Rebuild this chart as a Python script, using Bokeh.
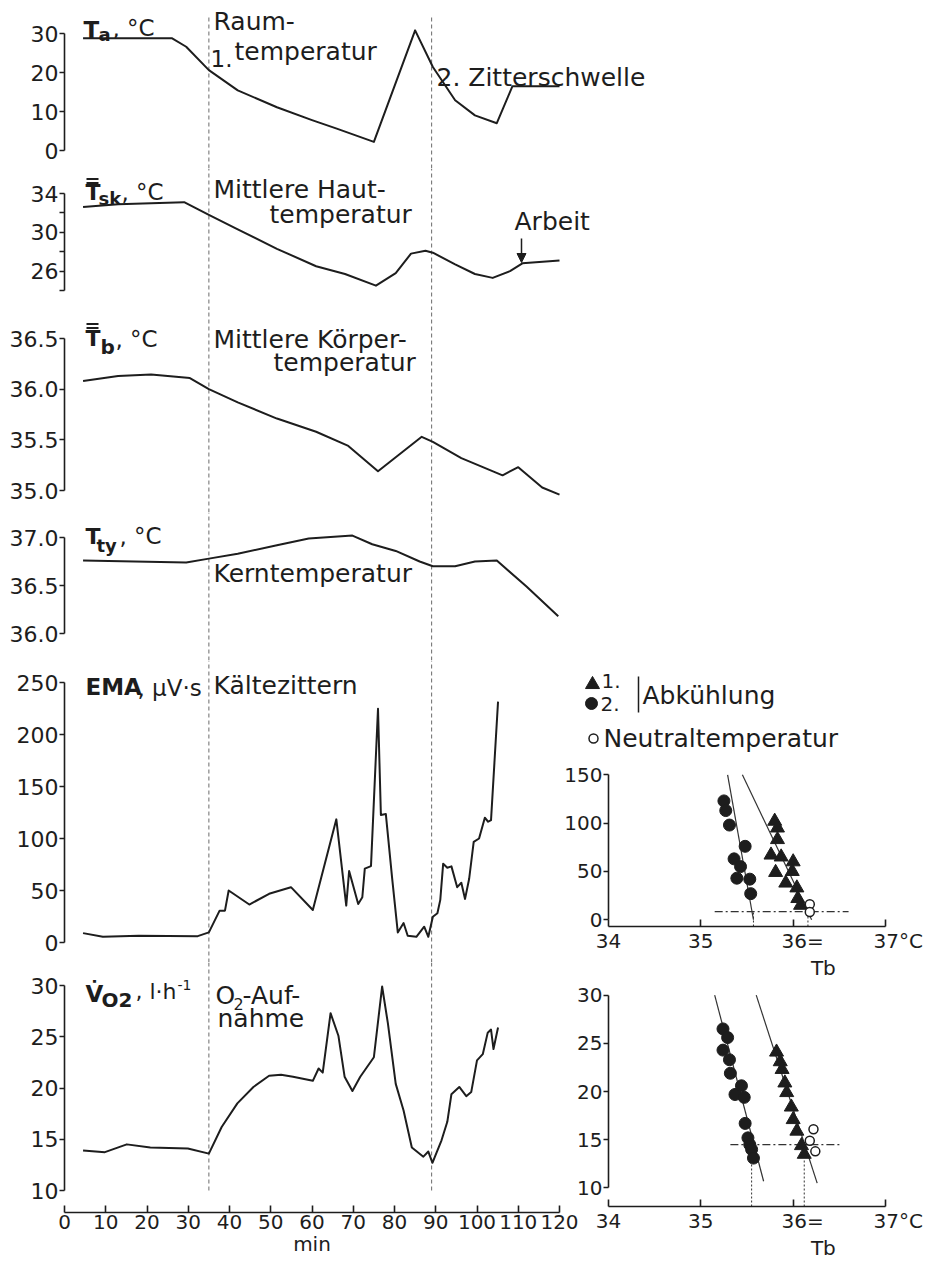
from bokeh.plotting import figure
from bokeh.models import (Range1d, FixedTicker, Label, Arrow, NormalHead, PrintfTickFormatter,
                          CustomJSTickFormatter)
from bokeh.layouts import column, row
from bokeh.embed import file_html
from bokeh.resources import INLINE

# ---------------- data ----------------
phase_t = [35, 89]                      # dashed phase markers (min)

ta_t = [4.5, 26, 29.5, 35, 42, 51.5, 60, 66, 75, 85, 89.3, 94.7, 99.5, 104.8, 108.6, 120]
ta_v = [28.8, 28.8, 26.6, 20.6, 15.4, 11.1, 7.8, 5.6, 2.2, 30.8, 21.4, 12.9, 9.0, 7.0, 16.5, 16.5]

tsk_t = [4.5, 13, 21, 29, 35, 42, 51.5, 61, 68, 75.5, 80.3, 84, 87.5, 89.3, 94.7, 99.5, 103.8, 108, 111, 120]
tsk_v = [32.6, 32.9, 33.0, 33.1, 31.8, 30.3, 28.3, 26.5, 25.7, 24.5, 25.8, 27.8, 28.1, 27.9, 26.7, 25.7, 25.3, 26.0, 26.8, 27.1]

tb_t = [4.5, 13, 21, 30.4, 35, 42, 51.5, 61, 68.8, 76, 86.6, 89.3, 96.2, 106.2, 110, 115.8, 120]
tb_v = [36.08, 36.13, 36.145, 36.11, 36.0, 35.87, 35.71, 35.58, 35.44, 35.19, 35.53, 35.48, 35.32, 35.15, 35.23, 35.03, 34.96]

tty_t = [4.5, 29.5, 35, 42, 51.5, 59.2, 69.8, 74.6, 80.3, 86.1, 89.3, 94.7, 99.5, 104.8, 112, 119.7]
tty_v = [36.76, 36.74, 36.78, 36.83, 36.92, 36.99, 37.02, 36.93, 36.86, 36.75, 36.70, 36.70, 36.75, 36.76, 36.49, 36.18]

ema_t = [4.5, 9.3, 18, 32.3, 35, 37.6, 38.9, 39.8, 44.8, 49.6, 54.9, 60.2, 65.9, 68.3, 69, 71.2, 72.2,
         72.8, 74.3, 76, 76.7, 77.9, 79.4, 80.8, 82.2, 83.2, 85.3, 87.2, 88.2, 89.3, 90.4, 91.1, 91.8,
         92.8, 93.8, 95.2, 96.2, 97.1, 98.1, 99.2, 100.5, 101.9, 102.7, 103.4, 105.1]
ema_v = [9, 5.5, 6.5, 6.1, 9.7, 30.6, 30.6, 50, 36.5, 46.8, 53.2, 31.3, 118.4, 35.5, 68.7, 37.1, 43.5,
         71, 73.5, 224.8, 122.6, 123.5, 62.9, 9.7, 18.7, 6.5, 5.5, 15.2, 5.5, 24.8, 28.1, 41, 75.8,
         71.9, 73.2, 53.2, 57.4, 41.9, 61.3, 96.8, 100, 120, 116.1, 117.7, 231.6]

vo2_t = [4.5, 9.8, 15.1, 20.8, 29.9, 35, 38.1, 41.9, 45.8, 49.6, 52.5, 55.4, 60.2, 61.6, 62.6, 64.5,
         66.4, 67.9, 69.8, 71.7, 75, 77, 78.4, 80.3, 82.2, 84.2, 87, 88.2, 89.2, 89.9, 91.4, 92.8,
         93.8, 95.7, 97.4, 98.6, 100, 101.4, 102.6, 103.4, 104, 105.1]
vo2_v = [13.9, 13.74, 14.5, 14.2, 14.1, 13.6, 16.2, 18.5, 20.1, 21.2, 21.3, 21.1, 20.7, 21.9, 21.5, 27.3,
         25.1, 21.1, 19.7, 21.1, 23, 29.9, 26.3, 20.4, 17.8, 14.2, 13.3, 13.8, 12.7, 13.4, 14.9, 16.7,
         19.4, 20.1, 19.2, 19.6, 22.7, 23.3, 25.4, 25.7, 23.8, 25.9]

# right, EMA vs mean body temperature
r1_circ_T = [35.25, 35.27, 35.31, 35.36, 35.43, 35.39, 35.48, 35.53, 35.54]
r1_circ_V = [123, 113, 98, 63, 55, 43, 76, 42, 27]
r1_tri_T = [35.80, 35.83, 35.83, 35.76, 35.87, 35.81, 36.0, 35.99, 35.92, 36.04, 36.05, 36.08]
r1_tri_V = [102, 95, 83, 67, 65, 49, 60, 50, 38, 33, 22, 15]
r1_open_T = [36.18, 36.18]
r1_open_V = [16, 8]
r1_fit2_T = [35.29, 35.57]
r1_fit2_V = [150, 0]
r1_fit1_T = [35.45, 36.2]
r1_fit1_V = [150, 0]
r1_neutral_V = 8.3
r1_neutral_T = [35.15, 36.6]
r1_thresh_T = [35.57, 36.16]

# right, VO2 vs mean body temperature
r2_circ_T = [35.24, 35.29, 35.24, 35.31, 35.32, 35.37, 35.44, 35.47, 35.48, 35.51, 35.53, 35.55, 35.57]
r2_circ_V = [26.5, 25.6, 24.3, 23.3, 21.9, 19.7, 20.6, 19.4, 16.7, 15.2, 14.5, 14.0, 13.1]
r2_tri_T = [35.82, 35.86, 35.88, 35.91, 35.93, 35.98, 36.0, 36.04, 36.09, 36.12]
r2_tri_V = [24.1, 23.1, 22.3, 20.9, 19.9, 18.4, 17.1, 15.9, 14.4, 13.5]
r2_open_T = [36.22, 36.18, 36.24]
r2_open_V = [16.1, 14.9, 13.8]
r2_fit2_T = [35.15, 35.68]
r2_fit2_V = [30, 10.7]
r2_fit1_T = [35.6, 36.26]
r2_fit1_V = [30, 10.5]
r2_neutral_V = 14.5
r2_neutral_T = [35.32, 36.51]
r2_thresh_T = [35.55, 36.12]
r2_thresh_top = 13.0

# ---------------- styling helpers ----------------
INK = "#1d1d1d"
FONT = "DejaVu Sans"
TICK_PX = "22px"


class Lin:
    """linear map from page pixel to data value"""
    def __init__(self, pa, va, pb, vb):
        self.pa, self.va, self.pb, self.vb = pa, va, pb, vb

    def __call__(self, p):
        return self.va + (p - self.pa) * (self.vb - self.va) / (self.pb - self.pa)


tx = Lin(64, 0, 559, 120)        # page px -> minutes


def style_axis(ax, tick_out=5, tick_in=0, size=TICK_PX):
    ax.axis_line_color = INK
    ax.axis_line_width = 1.6
    ax.major_tick_line_color = INK
    ax.major_tick_line_width = 1.6
    ax.major_tick_out = tick_out
    ax.major_tick_in = tick_in
    ax.minor_tick_line_color = None
    ax.major_label_text_font = FONT
    ax.major_label_text_font_size = size
    ax.major_label_text_color = INK
    ax.major_label_standoff = 1


def x_axis_title(ax, text, size):
    ax.axis_label = text
    ax.axis_label_standoff = 0
    ax.axis_label_text_font = FONT
    ax.axis_label_text_font_size = size
    ax.axis_label_text_font_style = "normal"
    ax.axis_label_text_color = INK


def label(p, x, y, text, size=25, bold=False, align="left", baseline="middle"):
    p.add_layout(Label(x=x, y=y, text=text, text_font=FONT, text_font_size=f"{size}px",
                       text_font_style="bold" if bold else "normal", text_color=INK,
                       text_align=align, text_baseline=baseline))


def hbar(p, sx, sy, x0, x1, ys, w=2):
    p.segment(x0=[sx(x0)] * len(ys), y0=[sy(y) for y in ys], x1=[sx(x1)] * len(ys),
              y1=[sy(y) for y in ys], line_color=INK, line_width=w)


def left_panel(top, bottom, sy, ticks, bounds, width, border_bottom=0, fmt=None, minor=None,
               dash_top_px=None, dash_bottom_val=None):
    frame_bottom = bottom - border_bottom
    frame_right = width if border_bottom == 0 and width > 700 else 559
    p = figure(width=width, height=bottom - top,
               x_range=Range1d(0, tx(frame_right)),
               y_range=Range1d(sy(frame_bottom), sy(top)),
               x_axis_location="below" if border_bottom else None,
               toolbar_location=None, output_backend="svg",
               min_border_left=64, min_border_right=width - frame_right,
               min_border_top=0, min_border_bottom=border_bottom)
    p.outline_line_color = None
    p.grid.visible = False
    p.border_fill_color = None
    ax = p.yaxis[0]
    ax.ticker = FixedTicker(ticks=ticks, minor_ticks=minor or [])
    ax.bounds = bounds
    style_axis(ax)
    if minor:
        ax.minor_tick_line_color = INK
        ax.minor_tick_line_width = 1.6
        ax.minor_tick_out = 5
        ax.minor_tick_in = 0
    if fmt:
        ax.formatter = PrintfTickFormatter(format=fmt)
    y0 = sy(frame_bottom) if dash_bottom_val is None else dash_bottom_val
    y1 = sy(top) if dash_top_px is None else sy(dash_top_px)
    p.segment(x0=phase_t, y0=[y0] * 2, x1=phase_t, y1=[y1] * 2,
              line_color="#6a6a6a", line_width=1, line_dash="4 3")
    return p


def curve(p, t, v):
    p.line(t, v, line_color=INK, line_width=2, line_join="round")


WTOP = 930
WBOT = 580

# ---- Ta ----
s_ta = Lin(33, 30, 150, 0)
p_ta = left_panel(0, 168, s_ta, [0, 10, 20, 30], (0, 30), WTOP, dash_top_px=15)
curve(p_ta, ta_t, ta_v)
label(p_ta, tx(83), s_ta(29), "T", 23, True)
label(p_ta, tx(98), s_ta(34), "a", 18, True)
label(p_ta, tx(112), s_ta(27), ", °C", 23)
label(p_ta, tx(213), s_ta(21), "Raum-", 25)
label(p_ta, tx(234), s_ta(51), "temperatur", 25)
label(p_ta, tx(210), s_ta(58), "1.", 23)
label(p_ta, tx(436), s_ta(77), "2. Zitterschwelle", 25)

# ---- Tsk ----
s_sk = Lin(193, 34, 290, 24)
p_sk = left_panel(168, 310, s_sk, [26, 30, 34], (24, 34), WTOP, minor=[24, 28, 32])
curve(p_sk, tsk_t, tsk_v)
label(p_sk, tx(85), s_sk(192), "T", 22, True)
hbar(p_sk, tx, s_sk, 86, 98, [178.5, 182.5])
label(p_sk, tx(98), s_sk(198), "sk", 18, True)
label(p_sk, tx(121), s_sk(191), ", °C", 23)
label(p_sk, tx(213), s_sk(189), "Mittlere Haut-", 25)
label(p_sk, tx(269), s_sk(214), "temperatur", 25)
label(p_sk, tx(514), s_sk(221), "Arbeit", 25)
p_sk.add_layout(Arrow(end=NormalHead(size=9, fill_color=INK, line_color=INK),
                      x_start=tx(521), y_start=s_sk(238), x_end=tx(521), y_end=s_sk(262),
                      line_color=INK, line_width=1.5))

# ---- Tb ----
s_tb = Lin(338, 36.5, 490, 35.0)
p_tb = left_panel(310, 512, s_tb, [35.0, 35.5, 36.0, 36.5], (35.0, 36.5), WTOP, fmt="%.1f")
curve(p_tb, tb_t, tb_v)
label(p_tb, tx(85), s_tb(338), "T", 22, True)
hbar(p_tb, tx, s_tb, 86, 98, [323.5, 327.5])
label(p_tb, tx(100), s_tb(346), "b", 20, True)
label(p_tb, tx(115), s_tb(338), ", °C", 23)
label(p_tb, tx(213), s_tb(339), "Mittlere Körper-", 25)
label(p_tb, tx(273), s_tb(362), "temperatur", 25)

# ---- Tty ----
s_ty = Lin(537, 37.0, 633, 36.0)
p_ty = left_panel(512, 660, s_ty, [36.0, 36.5, 37.0], (36.0, 37.0), WTOP, fmt="%.1f")
curve(p_ty, tty_t, tty_v)
label(p_ty, tx(85), s_ty(536), "T", 22, True)
label(p_ty, tx(96), s_ty(545), "ty", 18, True)
label(p_ty, tx(119), s_ty(535), ", °C", 23)
label(p_ty, tx(213), s_ty(573), "Kerntemperatur", 25)

# ---- EMA ----
s_em = Lin(942, 0, 890, 50)
p_em = left_panel(660, 962, s_em, [0, 50, 100, 150, 200, 250], (0, 250), WBOT)
curve(p_em, ema_t, ema_v)
label(p_em, tx(85), s_em(686), "EMA", 23, True)
label(p_em, tx(137), s_em(687), ", μV·s", 23)
label(p_em, tx(213), s_em(685), "Kältezittern", 25)

# ---- VO2 ----
BOTTOM_BORDER = 50
s_vo = Lin(985, 30, 1190, 10)
p_vo = left_panel(962, 1262, s_vo, [10, 15, 20, 25, 30], (10, 30), WBOT,
                  border_bottom=BOTTOM_BORDER, dash_bottom_val=10)
curve(p_vo, vo2_t, vo2_v)
xa = p_vo.xaxis[0]
xa.ticker = FixedTicker(ticks=list(range(0, 121, 10)))
xa.bounds = (0, 120)
style_axis(xa, tick_out=0, tick_in=7, size="20px")
xa.major_label_standoff = 2
x_axis_title(xa, "min", "20px")
label(p_vo, tx(85), s_vo(993), "V\u0307", 23, True)
label(p_vo, tx(101), s_vo(999), "O2", 20, True)
label(p_vo, tx(135), s_vo(991), ", l·h", 22)
label(p_vo, tx(177), s_vo(984), "-1", 14)
label(p_vo, tx(215), s_vo(995), "O", 25)
label(p_vo, tx(233), s_vo(1003), "2", 16)
label(p_vo, tx(242), s_vo(995), "-Auf-", 25)
label(p_vo, tx(217), s_vo(1018), "nahme", 25)

# ---------------- right column ----------------
RW = 370
RX = Lin(608, 34, 885, 37)

# legend (own frame, not aligned with the panels below)
p_lg = figure(width=RW, height=95, x_range=Range1d(560, 930), y_range=Range1d(755, 660),
              x_axis_location=None, y_axis_location=None, toolbar_location=None,
              output_backend="svg", min_border=0, min_border_left=0, min_border_right=0,
              min_border_top=0, min_border_bottom=0, frame_align=False)
p_lg.outline_line_color = None
p_lg.grid.visible = False
p_lg.background_fill_color = None
p_lg.border_fill_color = None
p_lg.scatter([592], [684], marker="triangle", size=14, fill_color=INK, line_color=INK)
p_lg.scatter([591], [703], marker="circle", size=12, fill_color=INK, line_color=INK)
p_lg.scatter([593], [738], marker="circle", size=9, fill_color="white", line_color=INK, line_width=1.5)
p_lg.segment(x0=[638], y0=[676], x1=[638], y1=[712], line_color=INK, line_width=1.5)
label(p_lg, 601, 680, "1.", 20)
label(p_lg, 600, 703, "2.", 20)
label(p_lg, 642, 695, "Abkühlung", 25)
label(p_lg, 603, 738, "Neutraltemperatur", 25)

FS = "\u2007"      # figure space, keeps the numbers centred on their ticks
PS = "\u2008"      # punctuation space
TB_FMT = CustomJSTickFormatter(code=(
    "if (tick == 36) { return '" + FS + PS + "36='; }"
    "if (tick == 37) { return '" + FS + FS + "37°C'; }"
    "return tick.toFixed(0);"))


def right_panel(top, bottom, border_bottom, sy, ticks, bounds):
    frame_bottom = bottom - border_bottom
    p = figure(width=RW, height=bottom - top, x_range=Range1d(34, 37),
               y_range=Range1d(sy(frame_bottom), sy(top)), toolbar_location=None,
               output_backend="svg", min_border_left=48, min_border_right=RW - 48 - 277,
               min_border_top=0, min_border_bottom=border_bottom)
    p.outline_line_color = None
    p.grid.visible = False
    p.border_fill_color = None
    p.background_fill_color = None
    ya = p.yaxis[0]
    ya.ticker = FixedTicker(ticks=ticks)
    ya.bounds = bounds
    style_axis(ya, size="20px")
    xa = p.xaxis[0]
    xa.ticker = FixedTicker(ticks=[34, 35, 36, 37])
    xa.formatter = TB_FMT
    xa.bounds = (34, 37)
    style_axis(xa, tick_out=0, tick_in=7, size="20px")
    xa.major_label_standoff = 2
    x_axis_title(xa, FS * 12 + "Tb", "20px")
    return p


# R1: EMA vs Tb
s_r1 = Lin(925, 0, 775, 150)
p_r1 = right_panel(755, 982, BOTTOM_BORDER, s_r1, [0, 50, 100, 150], (0, 150))
p_r1.line(r1_fit2_T, r1_fit2_V, line_color="#333", line_width=1.2)
p_r1.line(r1_fit1_T, r1_fit1_V, line_color="#333", line_width=1.2)
p_r1.line(r1_neutral_T, [r1_neutral_V] * 2, line_color="#333", line_width=1.3, line_dash="8 3 2 3")
p_r1.segment(x0=r1_thresh_T, y0=[s_r1(932)] * 2, x1=r1_thresh_T, y1=[r1_neutral_V] * 2,
             line_color="#333", line_width=1, line_dash="2 2")
p_r1.scatter(r1_circ_T, r1_circ_V, marker="circle", size=12, fill_color=INK, line_color=INK)
p_r1.scatter(r1_tri_T, r1_tri_V, marker="triangle", size=14, fill_color=INK, line_color=INK)
p_r1.scatter(r1_open_T, r1_open_V, marker="circle", size=9, fill_color="white", line_color=INK,
             line_width=1.5)

# R2: VO2 vs Tb
s_r2 = Lin(995, 30, 1193, 10)
p_r2 = right_panel(982, 1262, BOTTOM_BORDER, s_r2, [10, 15, 20, 25, 30], (10, 30))
p_r2.line(r2_fit2_T, r2_fit2_V, line_color="#333", line_width=1.2)
p_r2.line(r2_fit1_T, r2_fit1_V, line_color="#333", line_width=1.2)
p_r2.line(r2_neutral_T, [r2_neutral_V] * 2, line_color="#333", line_width=1.3, line_dash="8 3 2 3")
p_r2.segment(x0=r2_thresh_T, y0=[s_r2(1212)] * 2, x1=r2_thresh_T, y1=[r2_thresh_top] * 2,
             line_color="#333", line_width=1, line_dash="2 2")
p_r2.scatter(r2_circ_T, r2_circ_V, marker="circle", size=12, fill_color=INK, line_color=INK)
p_r2.scatter(r2_tri_T, r2_tri_V, marker="triangle", size=14, fill_color=INK, line_color=INK)
p_r2.scatter(r2_open_T, r2_open_V, marker="circle", size=9, fill_color="white", line_color=INK,
             line_width=1.5)

right_col = column(p_lg, p_r1, p_r2, margin=(0, 0, 0, -20))
bottom = row(column(p_em, p_vo), right_col)
layout = column(p_ta, p_sk, p_tb, p_ty, bottom)

open("out.html", "w").write(file_html(layout, INLINE))
